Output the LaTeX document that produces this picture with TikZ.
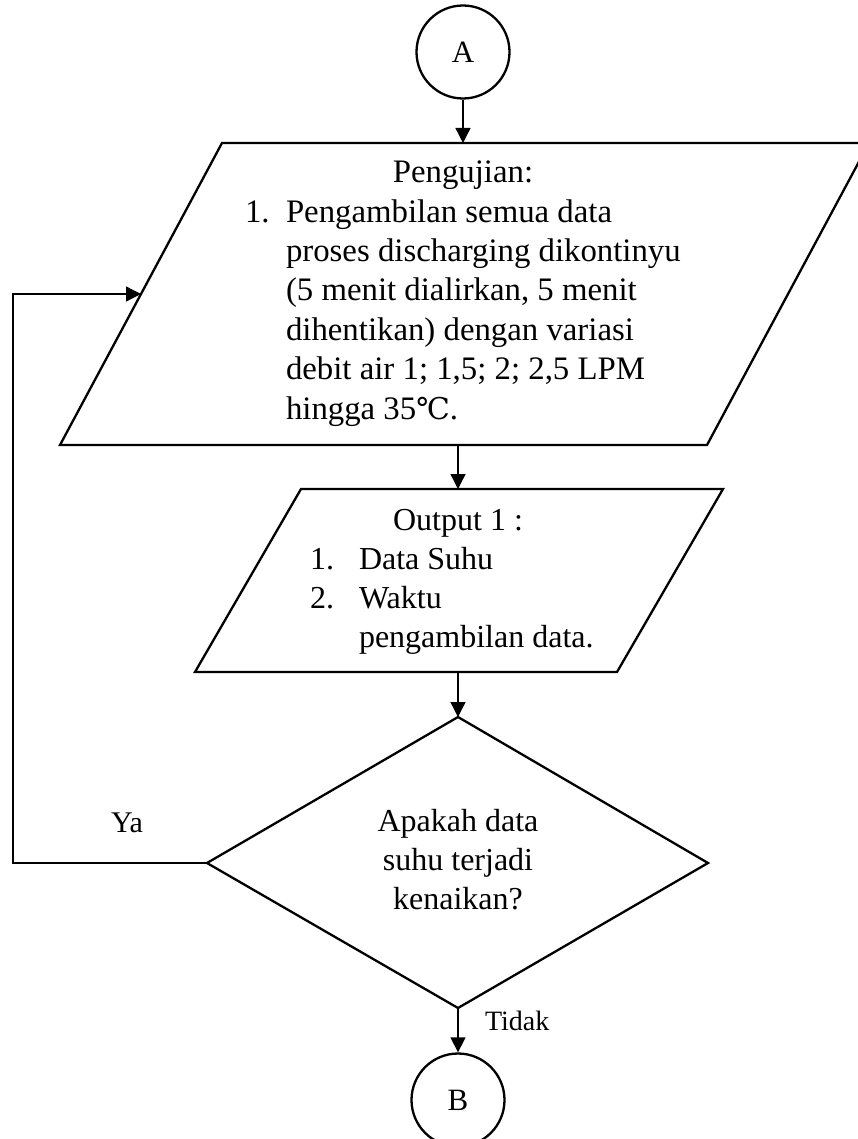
\documentclass[tikz,border=0pt]{standalone}
\usepackage{fontspec}
\setmainfont{Liberation Serif}
\newfontfamily\dejavuserif{DejaVu Serif}
\usetikzlibrary{arrows.meta}
\begin{document}
\begin{tikzpicture}[x=1pt,y=-1pt,
  shapeline/.style={line width=2.3pt,line join=miter},
  conn/.style={line width=1.3pt,-{Triangle[length=15pt,width=15pt]}},
  conncircle/.style={circle,draw,line width=2.3pt,minimum size=93pt,inner sep=0pt,font=\fontsize{31}{36}\selectfont},
  txt/.style={inner sep=0pt,outer sep=0pt,font=\fontsize{32}{39}\selectfont},
  bigtxt/.style={inner sep=0pt,outer sep=0pt,font=\fontsize{32.8}{39}\selectfont},
  lbl/.style={inner sep=0pt,outer sep=0pt,font=\fontsize{30}{36}\selectfont}]
\useasboundingbox (0,0) rectangle (858,1139);
\clip (0,0) rectangle (858,1139);
\fill[white] (0,0) rectangle (858,1139);

% connector circle A
\node[conncircle] (A) at (463,52) {A};

% big parallelogram
\coordinate (p1tl) at (222,143);
\coordinate (p1tr) at (869,143);
\coordinate (p1br) at (707,445);
\coordinate (p1bl) at (60,445);
\coordinate (p1top) at (463,143);
\coordinate (p1bot) at (458,445);
\coordinate (p1left) at (141,294);
\draw[shapeline] (p1tl) -- (p1tr) -- (p1br) -- (p1bl) -- cycle;
\node[bigtxt,anchor=base] (t0) at (463,183) {Pengujian:};
\node[bigtxt,anchor=base west] (n1) at (245,222.3) {1.};
\node[bigtxt,anchor=base west] (t1) at (286,222.3) {Pengambilan semua data};
\node[bigtxt,anchor=base west] (t2) at (286,261.6) {proses discharging dikontinyu};
\node[bigtxt,anchor=base west] (t3) at (286,301) {(5 menit dialirkan, 5 menit};
\node[bigtxt,anchor=base west] (t4) at (286,340.3) {dihentikan) dengan variasi};
\node[bigtxt,anchor=base west] (t5) at (286,379.6) {debit air 1; 1,5; 2; 2,5 LPM};
\node[bigtxt,anchor=base west] (t6) at (286,419) {hingga 35{\dejavuserif\fontsize{30}{36}\selectfont ℃}.};

% output parallelogram
\coordinate (p2tl) at (301,489);
\coordinate (p2tr) at (723,489);
\coordinate (p2br) at (617,672);
\coordinate (p2bl) at (195,672);
\coordinate (p2top) at (458,489);
\coordinate (p2bot) at (458,672);
\draw[shapeline] (p2tl) -- (p2tr) -- (p2br) -- (p2bl) -- cycle;
\node[txt,anchor=base] (o0) at (458,530) {Output 1 :};
\node[txt,anchor=base west] (on1) at (310,569) {1.};
\node[txt,anchor=base west] (o1) at (359,569) {Data Suhu};
\node[txt,anchor=base west] (on2) at (310,608) {2.};
\node[txt,anchor=base west] (o2) at (359,608) {Waktu};
\node[txt,anchor=base west] (o3) at (359,647) {pengambilan data.};

% decision diamond
\coordinate (dT) at (458,717);
\coordinate (dR) at (708,863);
\coordinate (dB) at (458,1008);
\coordinate (dL) at (207,863);
\draw[shapeline] (dT) -- (dR) -- (dB) -- (dL) -- cycle;
\node[txt,anchor=base] (d1) at (458,831) {Apakah data};
\node[txt,anchor=base] (d2) at (458,870) {suhu terjadi};
\node[txt,anchor=base] (d3) at (458,909) {kenaikan?};

% connector circle B
\node[conncircle] (B) at (458,1100) {B};

% connectors
\draw[conn] (A.south) -- (p1top);
\draw[conn] (p1bot) -- (p2top);
\draw[conn] (p2bot) -- (dT);
\draw[conn] (dB) -- (B.north);
\coordinate (ya1) at (13,863);
\coordinate (ya2) at (13,294);
\draw[conn] (dL) -- (ya1) -- (ya2) -- (p1left);

% labels
\node[lbl,anchor=base] (ya) at (127,832) {Ya};
\node[lbl,anchor=base west,font=\fontsize{28}{34}\selectfont] (tidak) at (485,1030) {Tidak};
\end{tikzpicture}
\end{document}
